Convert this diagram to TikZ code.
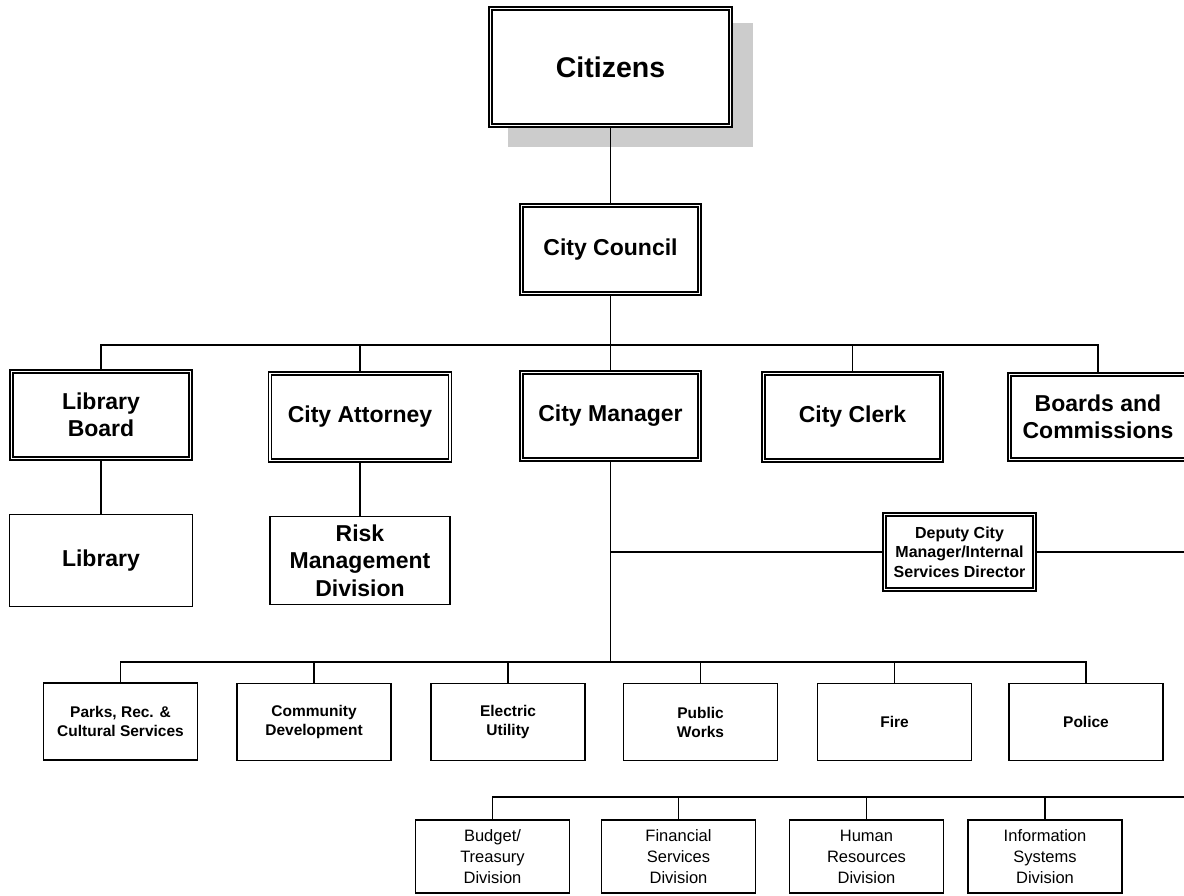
\documentclass[tikz,border=0pt]{standalone}
\usepackage{fontspec}
\setmainfont{Liberation Sans}
\begin{document}
\begin{tikzpicture}[x=1pt,y=-1pt,
  dbl/.style={draw, double, line width=1.45pt, double distance=1.7pt, inner sep=0pt, align=center, fill=white},
  sgl/.style={draw, line width=1.6pt, inner sep=0pt, align=center, fill=white},
  big/.style={font=\fontsize{28.5}{34}\selectfont\bfseries},
  mid/.style={font=\fontsize{23}{27.5}\selectfont\bfseries},
  dep/.style={font=\fontsize{16}{19.5}\selectfont\bfseries},
  rowf/.style={font=\fontsize{15.5}{19}\selectfont\bfseries},
  rowv/.style={font=\fontsize{16.5}{21}\selectfont},
  conn/.style={line width=1.6pt}
]
\useasboundingbox (0,0) rectangle (1184,895);
% shadow
\fill[black!20] (508,23) rectangle (753,147);
% nodes
\node[dbl,big,minimum width=240,minimum height=117] (cit) at (610.5,67) {Citizens};
\node[dbl,mid,minimum width=178,minimum height=88] (council) at (610.5,249.5) {City Council};
\node[dbl,mid,minimum width=179,minimum height=87] (libboard) at (101,415) {Library\\Board};
\node[dbl,mid,minimum width=180,minimum height=87] (attorney) at (360,417) {City Attorney};
\node[dbl,mid,minimum width=178,minimum height=87] (manager) at (610.5,416) {City Manager};
\node[dbl,mid,minimum width=178,minimum height=87] (clerk) at (852.5,417) {City Clerk};
\node[dbl,mid,minimum width=177,minimum height=85] (boards) at (1098,417) {Boards and\\Commissions};
\node[sgl,mid,minimum width=183,minimum height=92] (library) at (101,560.5) {Library};
\node[sgl,mid,minimum width=180,minimum height=88] (risk) at (360,560.5) {Risk\\Management\\Division};
\node[dbl,dep,minimum width=150,minimum height=75] (deputy) at (959.5,552) {Deputy City\\Manager/Internal\\Services Director};
% row 4
\node[sgl,rowf,minimum width=154,minimum height=77] (parks) at (120.5,721.5) {Parks, Rec. \&\\Cultural Services};
\node[sgl,rowf,minimum width=154,minimum height=77] (comm) at (314,722) {Community\\Development};
\node[sgl,rowf,minimum width=154,minimum height=77] (elec) at (508,722) {Electric\\Utility};
\node[sgl,rowf,minimum width=154,minimum height=77] (pw) at (700.5,722) {Public\\Works};
\node[sgl,rowf,minimum width=154,minimum height=77] (fire) at (894.5,722) {Fire};
\node[sgl,rowf,minimum width=154,minimum height=77] (police) at (1086,722) {Police};
% row 5
\node[sgl,rowv,minimum width=154,minimum height=73] (budget) at (492.5,856.5) {Budget/\\Treasury\\Division};
\node[sgl,rowv,minimum width=154,minimum height=73] (fin) at (678.5,856.5) {Financial\\Services\\Division};
\node[sgl,rowv,minimum width=154,minimum height=73] (hr) at (866.5,856.5) {Human\\Resources\\Division};
\node[sgl,rowv,minimum width=154,minimum height=73] (is) at (1045,856.5) {Information\\Systems\\Division};
% coordinates
\coordinate (bus1) at (610.5,345);
\coordinate (bus4) at (610.5,662);
\coordinate (offR1) at (1200,552);
\coordinate (offR2) at (1200,797);
% connectors
\draw[conn] (cit.south) -- (council.north);
\draw[conn] (council.south) -- (bus1);
\draw[conn] (libboard.north) |- (bus1) -| (boards.north);
\draw[conn] (attorney.north) -- (attorney.north |- bus1);
\draw[conn] (clerk.north) -- (clerk.north |- bus1);
\draw[conn] (manager.north) -- (bus1);
\draw[conn] (libboard.south) -- (library.north);
\draw[conn] (attorney.south) -- (risk.north);
\draw[conn] (manager.south) -- (bus4);
\draw[conn] (manager.south |- deputy.west) -- (deputy.west);
\draw[conn] (parks.north) |- (bus4) -| (police.north);
\draw[conn] (comm.north) -- (comm.north |- bus4);
\draw[conn] (elec.north) -- (elec.north |- bus4);
\draw[conn] (pw.north) -- (pw.north |- bus4);
\draw[conn] (fire.north) -- (fire.north |- bus4);
\draw[conn] (deputy.east) -- (offR1) -- (offR2) -| (budget.north);
\draw[conn] (fin.north) -- (fin.north |- offR2);
\draw[conn] (hr.north) -- (hr.north |- offR2);
\draw[conn] (is.north) -- (is.north |- offR2);
\end{tikzpicture}
\end{document}
